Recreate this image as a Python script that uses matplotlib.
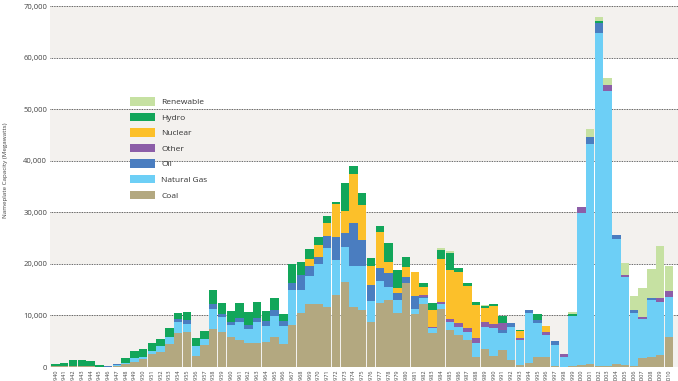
import numpy as np
import matplotlib
matplotlib.use('Agg')
import matplotlib.pyplot as plt
from matplotlib.patches import Patch

plt.rcParams['font.family'] = ['Open Sans', 'DejaVu Sans']

years = list(range(1940, 2011))

# nameplate capacity added per year, megawatts
coal = [100, 150, 150, 150, 100, 50, 50, 150, 500, 1000,
        1500, 2600, 3000, 4450, 6500, 6850, 2100, 4250, 7300, 6800,
        5900, 5250, 4600, 4600, 4900, 5900, 4500, 8100, 10400, 12300,
        12200, 11700, 14000, 16550, 11700, 11050, 8800, 12450, 13000, 10400,
        16200, 10300, 12300, 6550, 11200, 7150, 6200, 5250, 2000, 3400,
        2100, 3300, 1350, 300, 850, 2000, 2000, 100, 0, 200,
        300, 500, 200, 200, 500, 300, 200, 1700, 2000, 2300,
        5900]
natural_gas = [0, 0, 0, 0, 0, 0, 0, 150, 300, 700,
               500, 500, 1000, 1400, 2250, 1450, 1950, 1100, 3950, 2900,
               2250, 3450, 2700, 4050, 3000, 3900, 3500, 6800, 4500, 5300,
               7750, 11300, 6800, 6650, 7900, 8550, 4050, 4300, 2600, 2600,
               0, 900, 1000, 950, 1050, 1600, 1600, 1600, 2600, 4300,
               5500, 3350, 6350, 4900, 9550, 6600, 4200, 4150, 1950, 9700,
               29500, 42750, 64600, 53400, 24250, 17200, 10300, 7550, 10950, 10350,
               7600]
oil = [0, 0, 0, 0, 0, 0, 50, 250, 0, 0,
       0, 0, 0, 0, 650, 850, 0, 0, 950, 650,
       650, 800, 850, 800, 950, 1300, 1000, 1300, 2900, 1950,
       1400, 2400, 4500, 2700, 8300, 5000, 3050, 2400, 2700, 1400,
       1300, 2600, 350, 0, 0, 0, 0, 0, 0, 0,
       0, 500, 800, 0, 650, 500, 0, 850, 0, 0,
       0, 1400, 1850, 0, 850, 0, 500, 0, 350, 0,
       0]
other = [0] * 42 + [300, 350, 450, 650, 800, 650, 950, 1000,
                    700, 1400, 0, 450, 0, 0, 500, 0, 650, 0,
                    1200, 0, 0, 1100, 0, 350, 0, 500, 0, 650,
                    1300]
nuclear = [0] * 29 + [1300,
                      2250, 2450, 6250, 4400, 9600, 6800, 3700, 7100, 2150, 850,
                      1950, 4700, 1600, 3250, 8200, 9400, 9900, 8200, 6450, 2700,
                      3550, 0, 0, 1300, 0, 0, 1300] + [0] * 14
hydro = [400, 700, 1150, 1150, 1000, 400, 0, 50, 1000, 1400,
         1400, 1500, 1450, 1750, 1000, 1600, 1500, 1700, 2700, 2100,
         2100, 3000, 2550, 3200, 2100, 2250, 1300, 3700, 2600, 1950,
         1650, 1450, 500, 5450, 1450, 2300, 1600, 1100, 3550, 3550,
         1850, 0, 650, 1250, 1800, 3350, 650, 500, 650, 450,
         450, 1300, 0, 300, 0, 1100, 0, 0, 0, 350,
         0, 0, 450, 0, 0, 0, 0, 0, 0, 0,
         0]
renewable = [0] * 44 + [300, 350, 0, 0, 0, 200,
                        0, 0, 0, 0, 0, 0, 0, 0, 0, 450,
                        0, 1450, 800, 1400, 0, 2250, 2750, 5500, 5800, 10150,
                        4800]

series = [
    ('Coal', coal, '#b3a880'),
    ('Natural Gas', natural_gas, '#6dcff6'),
    ('Oil', oil, '#4a7dc0'),
    ('Other', other, '#8c5ea8'),
    ('Nuclear', nuclear, '#fcc02a'),
    ('Hydro', hydro, '#12a65a'),
    ('Renewable', renewable, '#c6e1a2'),
]

fig = plt.figure(figsize=(6.78, 3.81), dpi=100)
ax = fig.add_axes([50 / 678, 14 / 381, 628 / 678, 367 / 381])

# alternating background bands and dotted grid
for lo in (0, 20000, 40000, 60000):
    ax.axhspan(lo, lo + 10000, color='#f3f1ee', lw=0, zorder=0)
for y in range(0, 70001, 10000):
    ax.axhline(y, color='#333333', lw=0.6, ls=(0, (1, 1)), zorder=1)

bottom = np.zeros(len(years))
for name, vals, c in series:
    vals = np.array(vals, dtype=float)
    ax.bar(years, vals, bottom=bottom, width=0.96, color=c, lw=0, zorder=2)
    bottom += vals

ax.set_xlim(1939.37, 2011.03)
ax.set_ylim(0, 71165)
for s in ax.spines.values():
    s.set_visible(False)

ax.set_yticks(range(0, 70001, 10000))
ax.set_yticklabels([f'{v:,}' for v in range(0, 70001, 10000)], fontsize=5.5, color='#444444')
ax.set_xticks(years)
ax.set_xticklabels([str(y) for y in years], rotation=90, fontsize=4, color='#444444')
ax.tick_params(axis='y', length=0, pad=2)
ax.tick_params(axis='x', length=0, pad=2)

fig.text(6 / 678, 1 - 170 / 381, 'Nameplate Capacity (Megawatts)', rotation=90,
         fontsize=4.5, color='#444444', ha='center', va='center')

handles = [Patch(facecolor=c, edgecolor='none', label=n) for n, _, c in series[::-1]]
ax.legend(handles=handles, loc='upper left', bbox_to_anchor=(130 / 678, 1 - 97 / 381),
          bbox_transform=fig.transFigure, frameon=False, fontsize=6,
          handlelength=3.0, handleheight=1.2, handletextpad=0.75, labelspacing=0.78,
          borderpad=0, borderaxespad=0, labelcolor='#333333')

fig.savefig('out.png', dpi=100)
